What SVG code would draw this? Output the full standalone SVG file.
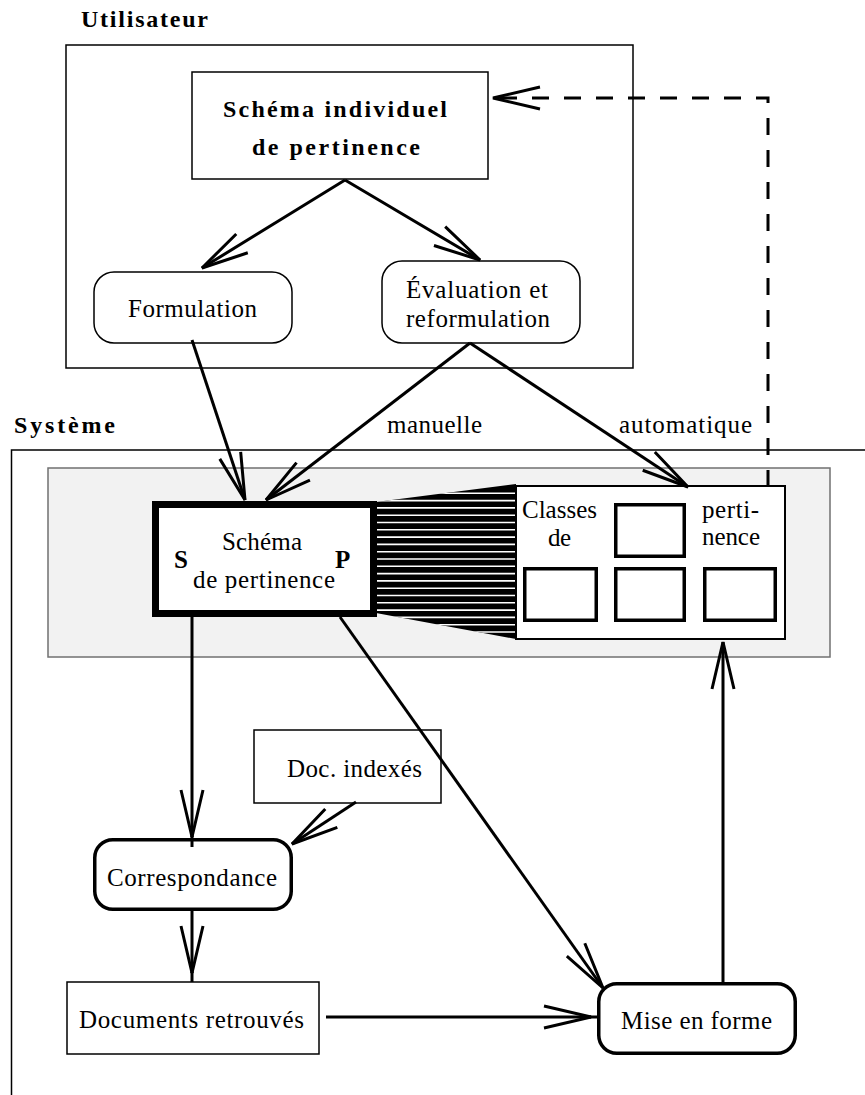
<svg xmlns="http://www.w3.org/2000/svg" width="865" height="1095" viewBox="0 0 865 1095">
  <style>
    .frame { fill: none; stroke: #000; stroke-width: 1.5; }
    .thin { fill: #fff; stroke: #000; stroke-width: 1.5; }
    .thick { fill: #fff; stroke: #000; stroke-width: 3.5; }
    .cls { fill: #fff; stroke: #000; stroke-width: 3.5; }
    .conn { fill: none; stroke: #000; stroke-width: 3; }
    .dash { stroke-dasharray: 17 15; }
    .t { font-family: "Liberation Serif", "Times New Roman", serif; font-size: 25px; fill: #000; }
    .b { font-weight: bold; font-size: 24px; }
    .m { text-anchor: middle; }
  </style>
  <defs>
    <marker id="vee" markerUnits="userSpaceOnUse" markerWidth="60" markerHeight="30" refX="0" refY="0" orient="auto" overflow="visible">
      <path d="M-47,-11 L0,0 L-47,11" fill="none" stroke="#000" stroke-width="3"/>
    </marker>
    <clipPath id="fanClip">
      <polygon points="376,502 516,484 516,639 376,613"/>
    </clipPath>
  </defs>

  <rect width="865" height="1095" fill="#fff"/>

  <!-- user area -->
  <g id="utilisateur">
    <text class="t b" x="81" y="27" textLength="127" lengthAdjust="spacing">Utilisateur</text>
    <rect class="frame" x="66" y="45" width="567" height="323"/>
  </g>

  <!-- system area -->
  <g id="systeme">
    <text class="t b" x="14" y="433" textLength="101" lengthAdjust="spacing">Système</text>
    <path class="frame" d="M865,450 H11.5 V1095"/>
    <rect x="48" y="468" width="782" height="189" fill="#f2f2f2" stroke="#707070" stroke-width="1.5"/>
  </g>

  <g id="schema-individuel">
    <rect class="thin" x="192" y="72" width="296" height="107"/>
    <text class="t b" x="223" y="117" textLength="224" lengthAdjust="spacing">Schéma individuel</text>
    <text class="t b" x="252" y="155" textLength="168" lengthAdjust="spacing">de pertinence</text>
  </g>

  <g id="formulation">
    <rect class="thin" x="94" y="272" width="198" height="71" rx="20"/>
    <text class="t" x="128" y="317" textLength="129" lengthAdjust="spacing">Formulation</text>
  </g>

  <g id="evaluation">
    <rect class="thin" x="382" y="261" width="198" height="82" rx="20"/>
    <text class="t" x="406" y="298" textLength="142" lengthAdjust="spacing">Évaluation et</text>
    <text class="t" x="406" y="327" textLength="144" lengthAdjust="spacing">reformulation</text>
  </g>

  <!-- striped fan between the schema and the classes -->
  <g id="faisceau">
    <polygon points="376,502 516,484 516,639 376,613" fill="#000"/>
    <path clip-path="url(#fanClip)" stroke="#fff" stroke-width="1.6" fill="none"
      d="M376,493.3H516M376,500.6H516M376,507.9H516M376,515.2H516M376,522.5H516M376,529.8H516M376,537.1H516M376,544.4H516M376,551.7H516M376,559H516M376,566.3H516M376,573.6H516M376,580.9H516M376,588.2H516M376,595.5H516M376,602.8H516M376,610.1H516M376,617.4H516M376,624.7H516M376,632H516"/>
  </g>

  <g id="schema-pertinence">
    <rect x="155.5" y="504.5" width="218" height="109" fill="#fff" stroke="#000" stroke-width="7"/>
    <text class="t" x="222" y="550" textLength="80" lengthAdjust="spacing">Schéma</text>
    <text class="t" x="193" y="588" textLength="142" lengthAdjust="spacing">de pertinence</text>
    <text class="t b" x="174" y="568" style="font-size:25px">S</text>
    <text class="t b" x="335" y="568" style="font-size:25px">P</text>
  </g>

  <g id="classes">
    <rect x="516" y="486" width="269" height="153" fill="#fff" stroke="#000" stroke-width="2"/>
    <rect class="cls" x="615.75" y="504.75" width="68.5" height="51.5"/>
    <rect class="cls" x="524.75" y="568.75" width="71.5" height="51.5"/>
    <rect class="cls" x="615.75" y="568.75" width="68.5" height="51.5"/>
    <rect class="cls" x="704.75" y="568.75" width="70.5" height="51.5"/>
    <text class="t" x="522" y="518" textLength="75" lengthAdjust="spacing">Classes</text>
    <text class="t" x="548" y="546" textLength="23" lengthAdjust="spacing">de</text>
    <text class="t" x="702" y="518" textLength="57" lengthAdjust="spacing">perti-</text>
    <text class="t" x="702" y="545" textLength="58" lengthAdjust="spacing">nence</text>
  </g>

  <g id="doc-indexes">
    <rect class="thin" x="254" y="730" width="187" height="73"/>
    <text class="t" x="287" y="777" textLength="135" lengthAdjust="spacing">Doc. indexés</text>
  </g>

  <g id="correspondance">
    <rect class="thick" x="94.75" y="839.75" width="196.5" height="69.5" rx="18"/>
    <text class="t" x="107" y="886" textLength="170" lengthAdjust="spacing">Correspondance</text>
  </g>

  <g id="documents-retrouves">
    <rect class="thin" x="67" y="982" width="252" height="72"/>
    <text class="t" x="79" y="1028" textLength="225" lengthAdjust="spacing">Documents retrouvés</text>
  </g>

  <g id="mise-en-forme">
    <rect class="thick" x="598.75" y="983.75" width="196.5" height="69.5" rx="18"/>
    <text class="t" x="621" y="1029" textLength="151" lengthAdjust="spacing">Mise en forme</text>
  </g>

  <!-- connectors -->
  <g id="connecteurs">
    <path class="conn" d="M345,180 L202,268" marker-end="url(#vee)"/>
    <path class="conn" d="M345,180 L480,260" marker-end="url(#vee)"/>
    <path class="conn" d="M192,340 L245,500" marker-end="url(#vee)"/>
    <path class="conn" d="M470,343 L266,500" marker-end="url(#vee)"/>
    <path class="conn" d="M470,343 L688,487" marker-end="url(#vee)"/>
    <path class="conn dash" d="M768,487 V98 H493" marker-end="url(#vee)"/>
    <path class="conn" d="M192,617 V837" marker-end="url(#vee)"/>
    <path class="conn" d="M192,836 V847"/>
    <path class="conn" d="M340,617 L603,988" marker-end="url(#vee)"/>
    <path class="conn" d="M356,802 L292,844" marker-end="url(#vee)"/>
    <path class="conn" d="M192,911 V973" marker-end="url(#vee)"/>
    <path class="conn" d="M192,972 V982"/>
    <path class="conn" d="M326,1017 H591" marker-end="url(#vee)"/>
    <path class="conn" d="M590,1017 H598"/>
    <path class="conn" d="M723,983 V642" marker-end="url(#vee)"/>
  </g>

  <g id="etiquettes">
    <text class="t" x="387" y="433" textLength="95" lengthAdjust="spacing">manuelle</text>
    <text class="t" x="619" y="433" textLength="133" lengthAdjust="spacing">automatique</text>
  </g>
</svg>
